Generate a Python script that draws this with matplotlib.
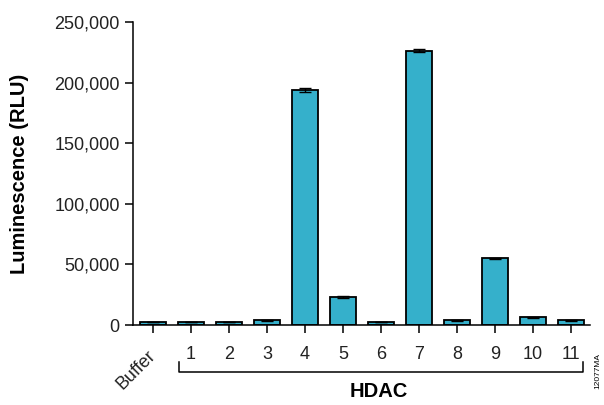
import matplotlib
matplotlib.use("Agg")
import matplotlib.pyplot as plt
from matplotlib.ticker import FuncFormatter

labels = ["Buffer", "1", "2", "3", "4", "5", "6", "7", "8", "9", "10", "11"]
values = [2500, 2500, 2500, 4000, 194000, 23500, 2500, 226500, 4000, 55000, 6500, 4000]
errors = [300, 300, 300, 300, 1500, 800, 300, 1500, 300, 400, 500, 300]

plt.rcParams["font.family"] = ["Liberation Sans", "DejaVu Sans"]

fig = plt.figure(figsize=(6.04, 4.05), dpi=100)
ax = fig.add_axes([0.220, 0.1975, 0.757, 0.748])

x = list(range(len(labels)))
ax.bar(x, values, width=0.68, color="#35B0CB", edgecolor="black", linewidth=1.3,
       yerr=errors, error_kw=dict(ecolor="black", elinewidth=1, capsize=4, capthick=1))

ax.set_xlim(-0.526, 11.5)
ax.set_ylim(0, 250000)
ax.set_yticks([0, 50000, 100000, 150000, 200000, 250000])
ax.yaxis.set_major_formatter(FuncFormatter(lambda v, p: f"{int(v):,}"))
ax.set_xticks(x)
ax.set_xticklabels([""] + labels[1:])
for s in ["top", "right"]:
    ax.spines[s].set_visible(False)
for s in ["left", "bottom"]:
    ax.spines[s].set_linewidth(1.1)
ax.tick_params(axis="both", direction="out", length=6, width=1.1, labelsize=13,
               colors="black", labelcolor="#222222")
ax.tick_params(axis="x", pad=9)
ax.set_ylabel("Luminescence (RLU)", fontsize=14.5, fontweight="bold", labelpad=18)

tr = ax.get_xaxis_transform()

# Rotated Buffer label
ax.text(-0.45, -0.148, "Buffer", transform=tr, rotation=45,
        ha="center", va="center", fontsize=13, color="#222222",
        rotation_mode="anchor")

# Bracket under HDAC labels
yb, yt = -0.155, -0.122
ax.plot([0.68, 0.68, 11.32, 11.32], [yt, yb, yb, yt], transform=tr, color="black",
        lw=1.1, clip_on=False)
ax.text(5.95, -0.218, "HDAC", transform=tr, ha="center", va="center", fontsize=14.5,
        fontweight="bold")

fig.text(0.99, 0.085, "12077MA", rotation=90, fontsize=6, ha="center", va="center")

fig.savefig("out.png", dpi=100)
